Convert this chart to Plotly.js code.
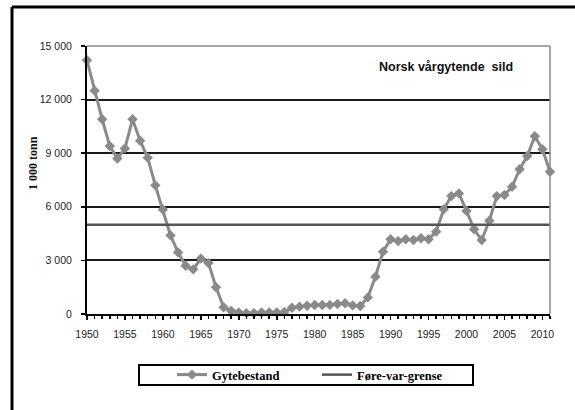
<!DOCTYPE html>
<html><head><meta charset="utf-8">
<script src="https://cdn.plot.ly/plotly-3.0.1.min.js"></script>
<style>body{margin:0;background:#fff}#c{width:575px;height:410px}</style>
</head><body><div id="c"></div><script>
const years = [1950,1951,1952,1953,1954,1955,1956,1957,1958,1959,
  1960,1961,1962,1963,1964,1965,1966,1967,1968,1969,
  1970,1971,1972,1973,1974,1975,1976,1977,1978,1979,
  1980,1981,1982,1983,1984,1985,1986,1987,1988,1989,
  1990,1991,1992,1993,1994,1995,1996,1997,1998,1999,
  2000,2001,2002,2003,2004,2005,2006,2007,2008,2009,
  2010,2011];
const gytebestand = [14200,12500,10900,9400,8700,9270,10900,9700,8750,7200,
  5850,4400,3450,2700,2500,3100,2850,1500,380,170,
  80,50,50,80,80,80,110,350,410,460,
  500,500,510,560,600,480,450,930,2090,3490,
  4180,4080,4180,4140,4240,4180,4610,5860,6600,6750,
  5770,4740,4140,5220,6600,6660,7120,8100,8840,9950,
  9220,7960];
const fvYears = [1950, 2011];
const fvValues = [5000, 5000];
const xTickVals = [1950,1955,1960,1965,1970,1975,1980,1985,1990,1995,2000,2005,2010];
const yTickVals = [0,3000,6000,9000,12000,15000];
const yTickText = ["0","3\u00a0000","6\u00a0000","9\u00a0000","12\u00a0000","15\u00a0000"];
const seriesNames = ["Gytebestand","Føre-var-grense"];
const chartTitle = "Norsk vårgytende\u00a0 sild";
const yTitle = "1 000 tonn";

const traces = [
  {x: years, y: gytebestand, name: seriesNames[0], type: 'scatter', mode: 'lines+markers',
   line: {color: '#8a8a8a', width: 3}, marker: {symbol: 'diamond', size: 8, color: '#8a8a8a'},
   cliponaxis: false},
  {x: fvYears, y: fvValues, name: seriesNames[1], type: 'scatter', mode: 'lines',
   line: {color: '#555555', width: 2.5}, cliponaxis: false}
];
const px = v => (v - 87) / 463;
const py = v => (314 - v) / 268;
const layout = {
  width: 575, height: 410,
  margin: {l: 87, r: 25, t: 46, b: 96},
  paper_bgcolor: '#fff', plot_bgcolor: '#fff',
  showlegend: true,
  font: {family: 'Liberation Sans, Arial, sans-serif', color: '#222'},
  xaxis: {range: [1950, 2011], tickmode: 'array', tickvals: xTickVals,
    ticks: 'outside', ticklen: 4, tickwidth: 1.5, tickcolor: '#000', ticklabelstandoff: 5,
    minor: {tick0: 1950, dtick: 1, ticks: 'outside', ticklen: 3, tickwidth: 1.5, tickcolor: '#000', showgrid: false},
    showline: true, linecolor: '#000', linewidth: 2, showgrid: false, zeroline: false,
    tickfont: {size: 10.5, color: '#222'}, fixedrange: true},
  yaxis: {range: [0, 15000], tickmode: 'array', tickvals: yTickVals, ticktext: yTickText,
    ticks: 'outside', ticklen: 4, tickwidth: 1.5, tickcolor: '#000', ticklabelstandoff: 7,
    showline: true, linecolor: '#000', linewidth: 2,
    showgrid: true, gridcolor: '#1a1a1a', gridwidth: 2,
    zeroline: true, zerolinecolor: '#000', zerolinewidth: 2.5,
    tickfont: {size: 10.5, color: '#222'}, fixedrange: true},
  legend: {orientation: 'h', x: px(172), xanchor: 'left', y: py(375), yanchor: 'middle',
    font: {family: 'Liberation Serif, Times New Roman, serif', size: 12.5, color: '#000', weight: 'bold'},
    bgcolor: 'rgba(0,0,0,0)', entrywidth: 100, entrywidthmode: 'pixels'},
  annotations: [
    {text: chartTitle, xref: 'paper', yref: 'paper', x: px(446), y: py(67), xanchor: 'center', yanchor: 'middle', showarrow: false,
     font: {family: 'Liberation Sans, Arial, sans-serif', size: 12.5, color: '#111', weight: 'bold'}},
    {text: yTitle, xref: 'paper', yref: 'paper', x: px(33), y: py(163), xanchor: 'center', yanchor: 'middle', showarrow: false, textangle: -90,
     font: {family: 'Liberation Serif, Times New Roman, serif', size: 12, color: '#111', weight: 'bold'}}
  ],
  shapes: [
    {type: 'line', xref: 'paper', yref: 'paper', x0: 0, x1: 1, y0: 1, y1: 1, line: {color: '#8a8a8a', width: 1.5}, layer: 'above'},
    {type: 'line', xref: 'paper', yref: 'paper', x0: 1, x1: 1, y0: 0, y1: 1, line: {color: '#8a8a8a', width: 1.5}, layer: 'above'},
    {type: 'rect', xref: 'paper', yref: 'paper', x0: px(139), x1: px(473), y0: py(385), y1: py(365), line: {color: '#000', width: 2}},
    {type: 'line', xref: 'paper', yref: 'paper', x0: px(12), x1: px(12), y0: py(7), y1: py(420), line: {color: '#000', width: 3}},
    {type: 'line', xref: 'paper', yref: 'paper', x0: px(12), x1: px(590), y0: py(7), y1: py(7), line: {color: '#000', width: 3}}
  ]
};
Plotly.newPlot('c', traces, layout, {staticPlot: true, displayModeBar: false});
</script></body></html>
